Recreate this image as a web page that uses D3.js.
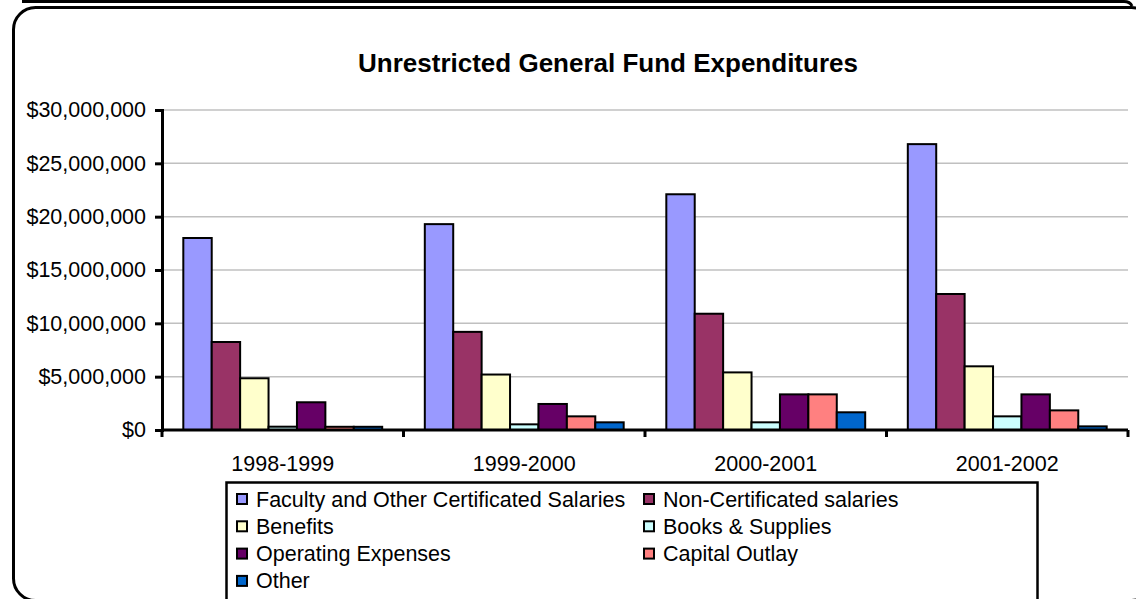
<!DOCTYPE html>
<html>
<head>
<meta charset="utf-8">
<script src="https://cdn.jsdelivr.net/npm/d3@7"></script>
<style>
  body { margin: 0; background: #fff; }
  svg { display: block; font-family: "Liberation Sans", Arial, sans-serif; }
</style>
</head>
<body>
<div id="chart"></div>
<script>
// Données (en dollars)
const years = ["1998-1999", "1999-2000", "2000-2001", "2001-2002"];
const seriesNames = [
  "Faculty and Other Certificated Salaries",
  "Non-Certificated salaries",
  "Benefits",
  "Books & Supplies",
  "Operating Expenses",
  "Capital Outlay",
  "Other"
];
const faculty      = [18000000, 19300000, 22100000, 26800000];
const nonCert      = [8250000, 9200000, 10900000, 12750000];
const benefits     = [4850000, 5200000, 5400000, 5970000];
const books        = [310000, 530000, 720000, 1280000];
const operating    = [2600000, 2440000, 3340000, 3340000];
const capital      = [300000, 1280000, 3340000, 1840000];
const other        = [300000, 720000, 1660000, 340000];
const yTicks = [0, 5000000, 10000000, 15000000, 20000000, 25000000, 30000000];

const seriesValues = [faculty, nonCert, benefits, books, operating, capital, other];
const colors = ["#9999FF", "#993366", "#FFFFCC", "#CCFFFF", "#660066", "#FF8080", "#0066CC"];

const width = 1136;
const height = 599;
const marginLeft = 162;
const marginRight = 8;
const marginTop = 110;
const plotBottom = 430;
const fontSize = "21.5px";

const svg = d3.select("#chart")
  .append("svg")
  .attr("width", width)
  .attr("height", height);

// Cadre arrondi
svg.append("path")
  .attr("d", "M22,1.5 H1124 Q1130,1.5 1132,6")
  .attr("fill", "none")
  .attr("stroke", "#000")
  .attr("stroke-width", 3);

svg.append("rect")
  .attr("x", 13.5)
  .attr("y", 7.5)
  .attr("width", 1140)
  .attr("height", 593)
  .attr("rx", 22)
  .attr("fill", "#fff")
  .attr("stroke", "#000")
  .attr("stroke-width", 3);

// Titre
svg.append("text")
  .attr("x", 608)
  .attr("y", 72)
  .attr("text-anchor", "middle")
  .style("font-weight", "bold")
  .style("font-size", "26px")
  .text("Unrestricted General Fund Expenditures");

// Échelles
const x0 = d3.scaleBand()
  .domain(years)
  .range([marginLeft, width - marginRight])
  .paddingInner(0)
  .paddingOuter(0);

const x1 = d3.scaleBand()
  .domain(d3.range(seriesNames.length))
  .range([0, x0.bandwidth()])
  .paddingInner(0)
  .paddingOuter(0.75);

const y = d3.scaleLinear()
  .domain([0, 30000000])
  .range([plotBottom, marginTop]);

// Grille
svg.append("g")
  .selectAll("line")
  .data(yTicks.slice(1))
  .join("line")
  .attr("x1", marginLeft)
  .attr("x2", width - marginRight)
  .attr("y1", (d) => y(d))
  .attr("y2", (d) => y(d))
  .attr("stroke", "#c0c0c0")
  .attr("stroke-width", 1.5);

// Barres
const groups = svg.append("g")
  .selectAll("g")
  .data(years)
  .join("g")
  .attr("transform", (d) => `translate(${x0(d)},0)`);

groups.selectAll("rect")
  .data((d, i) => seriesValues.map((vals, s) => ({ s, v: vals[i] })))
  .join("rect")
  .attr("x", (d) => x1(d.s))
  .attr("y", (d) => y(d.v))
  .attr("width", x1.bandwidth())
  .attr("height", (d) => plotBottom - y(d.v))
  .attr("fill", (d) => colors[d.s])
  .attr("stroke", "#000")
  .attr("stroke-width", 2);

// Axe Y
const yAxis = svg.append("g")
  .attr("transform", `translate(${marginLeft},0)`)
  .call(d3.axisLeft(y).tickValues(yTicks).tickFormat(d3.format("$,")).tickSize(7).tickPadding(9));
yAxis.selectAll("text")
  .style("font-size", fontSize)
  .style("font-family", "Liberation Sans, Arial, sans-serif")
  .style("fill", "#000");

// Axe X
const xAxis = svg.append("g")
  .attr("transform", `translate(0,${plotBottom})`);
xAxis.append("line")
  .attr("x1", marginLeft)
  .attr("x2", width - marginRight)
  .attr("stroke", "#000")
  .attr("stroke-width", 3);
xAxis.selectAll("line.tick")
  .data(years.concat(["end"]))
  .join("line")
  .attr("class", "tick")
  .attr("x1", (d, i) => marginLeft + i * x0.step())
  .attr("x2", (d, i) => marginLeft + i * x0.step())
  .attr("y1", 0)
  .attr("y2", 7)
  .attr("stroke", "#000")
  .attr("stroke-width", 3);
xAxis.selectAll("text")
  .data(years)
  .join("text")
  .attr("x", (d) => x0(d) + x0.bandwidth() / 2)
  .attr("y", 41)
  .attr("text-anchor", "middle")
  .style("font-size", fontSize)
  .text((d) => d);

yAxis.selectAll(".domain, .tick line")
  .attr("stroke", "#000")
  .attr("stroke-width", 3);

// Légende
const legend = svg.append("g");
legend.append("rect")
  .attr("x", 226.5)
  .attr("y", 482.5)
  .attr("width", 811)
  .attr("height", 140)
  .attr("fill", "#fff")
  .attr("stroke", "#000")
  .attr("stroke-width", 2.5);

const items = legend.selectAll("g.item")
  .data(seriesNames)
  .join("g")
  .attr("class", "item")
  .attr("transform", (d, i) => `translate(${i % 2 === 0 ? 237 : 644},${499 + Math.floor(i / 2) * 27.3})`);

items.append("rect")
  .attr("x", 0)
  .attr("y", -5)
  .attr("width", 10)
  .attr("height", 10)
  .attr("fill", (d, i) => colors[i])
  .attr("stroke", "#000")
  .attr("stroke-width", 2);

items.append("text")
  .attr("x", 19)
  .attr("y", 7.5)
  .style("font-size", fontSize)
  .text((d) => d);
</script>
</body>
</html>
